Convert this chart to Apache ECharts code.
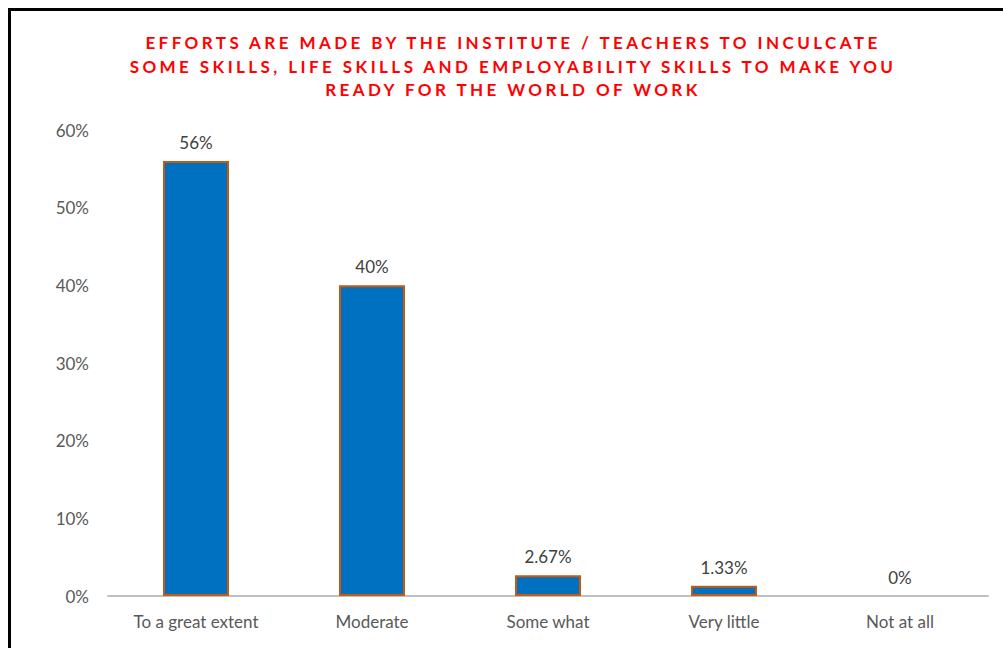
<!DOCTYPE html>
<html>
<head>
<meta charset="utf-8">
<script src="https://cdn.jsdelivr.net/npm/echarts@6/dist/echarts.min.js"></script>
<style>
  html, body { margin: 0; padding: 0; background: #fff; }
  #chart { width: 1003px; height: 648px; }
</style>
</head>
<body>
<div id="chart"></div>
<script>
var categories = ['To a great extent', 'Moderate', 'Some what', 'Very little', 'Not at all'];
var values = [56, 40, 2.67, 1.33, 0];
var titleLines = [
  'EFFORTS ARE MADE BY THE INSTITUTE / TEACHERS TO INCULCATE',
  'SOME SKILLS, LIFE SKILLS AND EMPLOYABILITY SKILLS TO MAKE YOU',
  'READY FOR THE WORLD OF WORK'
];

var titleFont = 'bold 17px Lato';
var titleWidth = 738; // width of the first title line in the original

// letter spacing for the title (svg renderer applies css letter-spacing)
function calcSpacing() {
  var ctx = document.createElement('canvas').getContext('2d');
  ctx.font = titleFont;
  var w = ctx.measureText(titleLines[0]).width;
  return (titleWidth - w) / titleLines[0].length;
}

var myChart = echarts.init(document.getElementById('chart'), null, { renderer: 'svg' });

var barData = values.map(function (v) {
  return v === 0 ? { value: v, itemStyle: { borderWidth: 0 } } : v;
});

var option = {
  backgroundColor: '#fff',
  animation: false,
  title: {
    text: titleLines.join('\n'),
    left: 508,
    textAlign: 'center',
    top: 26,
    textStyle: {
      color: '#FF0000',
      fontFamily: 'Lato',
      fontWeight: 'bold',
      fontSize: 17,
      lineHeight: 23.5
    }
  },
  graphic: [{
    type: 'polyline',
    shape: { points: [[9.5, 648], [9.5, 9.5], [1003, 9.5]] },
    style: { stroke: '#000', lineWidth: 3, fill: null }
  }],
  grid: { left: 108, right: 15, top: 130, bottom: 52 },
  xAxis: {
    type: 'category',
    data: categories,
    axisTick: { show: false },
    axisLine: { lineStyle: { color: '#BFBFBF', width: 2 } },
    axisLabel: {
      color: '#595959',
      fontFamily: 'Lato',
      fontSize: 17,
      margin: 17
    }
  },
  yAxis: {
    type: 'value',
    min: 0,
    max: 60,
    interval: 10,
    splitLine: { show: false },
    axisLine: { show: false },
    axisTick: { show: false },
    axisLabel: {
      color: '#595959',
      fontFamily: 'Lato',
      fontSize: 17,
      margin: 19,
      formatter: '{value}%'
    }
  },
  series: [{
    type: 'bar',
    data: barData,
    barWidth: 66,
    itemStyle: {
      color: '#0070C0',
      borderColor: '#C55A11',
      borderWidth: 2
    },
    label: {
      show: true,
      position: 'top',
      distance: 10,
      color: '#404040',
      fontFamily: 'Lato',
      fontSize: 17,
      formatter: function (p) { return p.value + '%'; }
    }
  }]
};

myChart.setOption(option);

var sp = calcSpacing();
var texts = document.querySelectorAll('#chart text');
for (var i = 0; i < texts.length; i++) {
  var f = (texts[i].getAttribute('fill') || '').toLowerCase();
  if (f === '#ff0000' || f === 'rgb(255,0,0)' || f === 'red' || f === '#f00') {
    texts[i].style.letterSpacing = sp + 'px';
  }
}
</script>
</body>
</html>
